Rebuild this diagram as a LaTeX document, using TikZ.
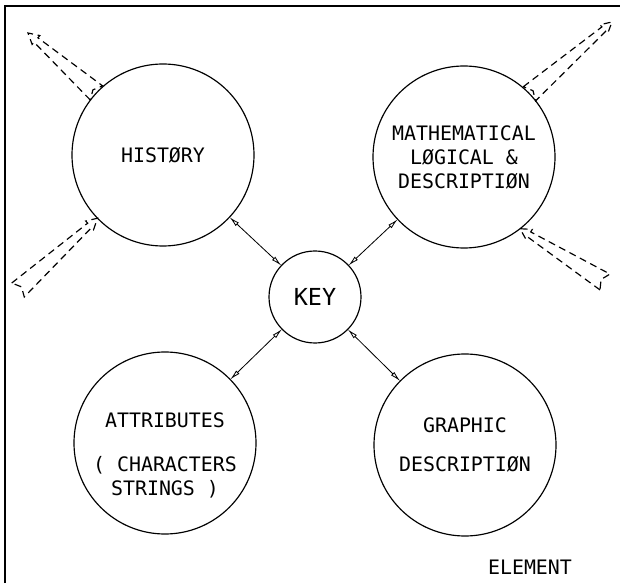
\documentclass[tikz,border=0pt]{standalone}
\usepackage{fontspec}
\setmonofont{DejaVu Sans Mono}
\usetikzlibrary{arrows.meta,calc}

\newcommand{\plotfont}{\fontsize{17}{20.5}\selectfont\ttfamily}
\tikzset{
  part/.style={circle, draw, line width=1pt, minimum size=5.46cm, inner sep=0pt, outer sep=0pt, font=\plotfont, align=center},
  keypart/.style={circle, draw, line width=1pt, minimum size=2.76cm, inner sep=0pt, outer sep=0pt, font=\fontsize{20}{24}\selectfont\ttfamily},
  lbl/.style={inner sep=0pt, font=\plotfont, align=center},
  link/.style={<->, line width=0.7pt},
  flow/.style={dash pattern=on 6pt off 4pt, line width=1pt, line join=miter},
}
% tapered dashed flow arrow from #1 (tail) to #2 (tip)
\newcommand{\flowarrow}[2]{%
  \draw[flow] let \p1=($(#2)-(#1)$), \n1={atan2(\y1,\x1)}, \n2={veclen(\x1,\y1)-9pt} in
    ($(#1)+(\n1+90:8pt)$) -- ($(#1)+(\n1:\n2)+(\n1+90:2.5pt)$) -- ($(#1)+(\n1:\n2)+(\n1+90:5pt)$)
    -- (#2)
    -- ($(#1)+(\n1:\n2)+(\n1-90:5pt)$) -- ($(#1)+(\n1:\n2)+(\n1-90:2.5pt)$) -- ($(#1)+(\n1-90:8pt)$)
    -- ($(#1)+(\n1:4pt)$) -- cycle;}

\begin{document}
\begin{tikzpicture}[x=0.03cm, y=0.03cm, >={Latex[open,length=9pt,width=4pt]}]
\useasboundingbox (0,0) rectangle (620,583);
% frame
\draw[line width=0.9pt] (5,0) -- (5,577) -- (620,577);
% parts of the element
\node[part] (hist) at (163,428) {HISTØRY};
\node[part] (math) at (464,426) {MATHEMATICAL\\LØGICAL \&\\DESCRIPTIØN};
\node[keypart] (key) at (315,286) {KEY};
\node[part] (attr) at (165,140) {};
\node[lbl] (attrtext) at (165,128) {ATTRIBUTES\\[17pt]( CHARACTERS\\STRINGS )};
\node[part] (graph) at (465,138) {GRAPHIC\\[13.5pt]DESCRIPTIØN};
\node[lbl] (elem) at (530,16) {ELEMENT};
% links to the key
\draw[link] (hist) -- (key);
\draw[link] (math) -- (key);
\draw[link] (attr) -- (key);
\draw[link] (graph) -- (key);
% flows in and out
\coordinate (histout) at (28,550);
\coordinate (mathout) at (612,561);
\coordinate (histin) at (18,293);
\coordinate (mathin) at (605,301);
\flowarrow{hist.137}{histout}
\flowarrow{math.44}{mathout}
\flowarrow{histin}{hist.224}
\flowarrow{mathin}{math.308}
\end{tikzpicture}
\end{document}
